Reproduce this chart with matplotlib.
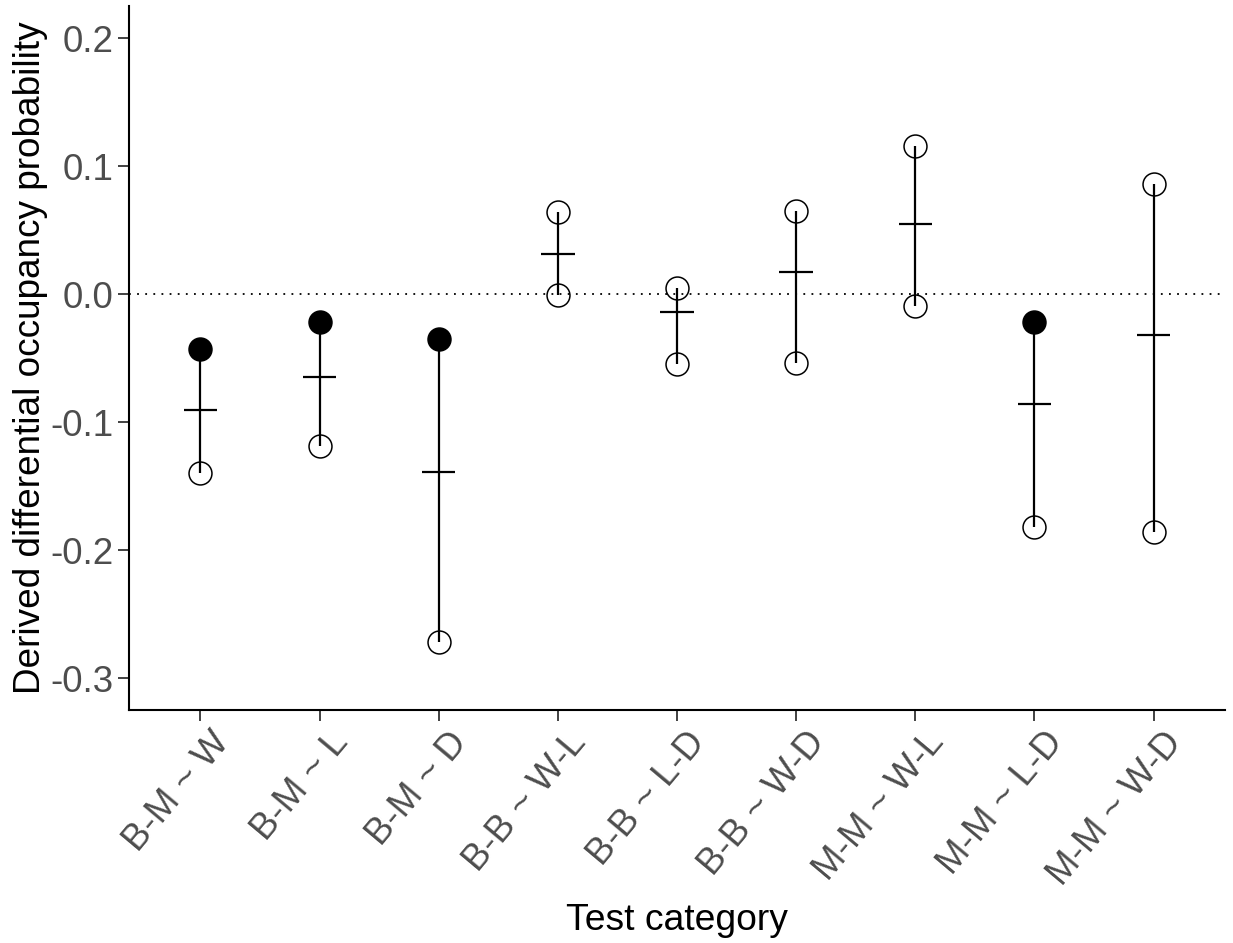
import matplotlib
matplotlib.use("Agg")
import matplotlib.pyplot as plt
from matplotlib.transforms import ScaledTranslation

plt.rcParams['font.family'] = ['Liberation Sans', 'DejaVu Sans']

categories = ["B-M ~ W", "B-M ~ L", "B-M ~ D", "B-B ~ W-L", "B-B ~ L-D",
              "B-B ~ W-D", "M-M ~ W-L", "M-M ~ L-D", "M-M ~ W-D"]
mean_vals = [-0.091, -0.065, -0.139, 0.031, -0.014, 0.017, 0.055, -0.086, -0.032]
lower_vals = [-0.140, -0.119, -0.272, -0.001, -0.055, -0.054, -0.009, -0.182, -0.186]
upper_vals = [-0.043, -0.022, -0.035, 0.064, 0.005, 0.065, 0.116, -0.022, 0.086]
y_ticks = [-0.3, -0.2, -0.1, 0.0, 0.1, 0.2]
y_tick_labels = ["-0.3", "-0.2", "-0.1", "0.0", "0.1", "0.2"]

fig = plt.figure(figsize=(12.33, 9.43), dpi=100)
ax = fig.add_axes([129 / 1233, 1 - 710 / 943, (1225 - 129) / 1233, (710 - 6) / 943])

x = list(range(1, len(categories) + 1))

ax.axhline(0, color='black', linestyle=(0, (1, 3.5)), linewidth=1.3, zorder=1)

# interval lines
ax.vlines(x, lower_vals, upper_vals, color='black', linewidth=1.6, zorder=2)
# mean dashes
ax.hlines(mean_vals, [xi - 0.14 for xi in x], [xi + 0.14 for xi in x],
          color='black', linewidth=1.6, zorder=2)

# bounds: filled where the whole interval sits below zero
for xi, lo, hi in zip(x, lower_vals, upper_vals):
    for v in (lo, hi):
        filled = (v == hi and hi < 0)
        ax.plot(xi, v, marker='o', markersize=16.5,
                markerfacecolor='black' if filled else 'none',
                markeredgecolor='black', markeredgewidth=1.1, zorder=3)

ax.set_xlim(0.4, 9.6)
ax.set_ylim(-0.325, 0.225)
ax.set_yticks(y_ticks)
ax.set_yticklabels(y_tick_labels)
ax.set_xticks(x)
ax.set_xticklabels(categories, rotation=50, ha='right', va='top',
                   rotation_mode='anchor')

for side in ('top', 'right'):
    ax.spines[side].set_visible(False)
for side in ('left', 'bottom'):
    ax.spines[side].set_linewidth(1.5)
    ax.spines[side].set_color('black')

ax.tick_params(axis='both', length=8, width=1.3, color='#333333',
               labelcolor='#4D4D4D', labelsize=26.5)
ax.tick_params(axis='y', pad=3)
ax.tick_params(axis='x', pad=3)

shift = ScaledTranslation(9 / 100, 0, fig.dpi_scale_trans)
for lab in ax.get_xticklabels():
    lab.set_transform(lab.get_transform() + shift)

ax.set_xlabel("Test category", fontsize=26.8, color='black', labelpad=8)
ax.set_ylabel("Derived differential occupancy probability", fontsize=26.6,
              color='black', labelpad=2)

fig.savefig("out.png", dpi=100, facecolor='white')
